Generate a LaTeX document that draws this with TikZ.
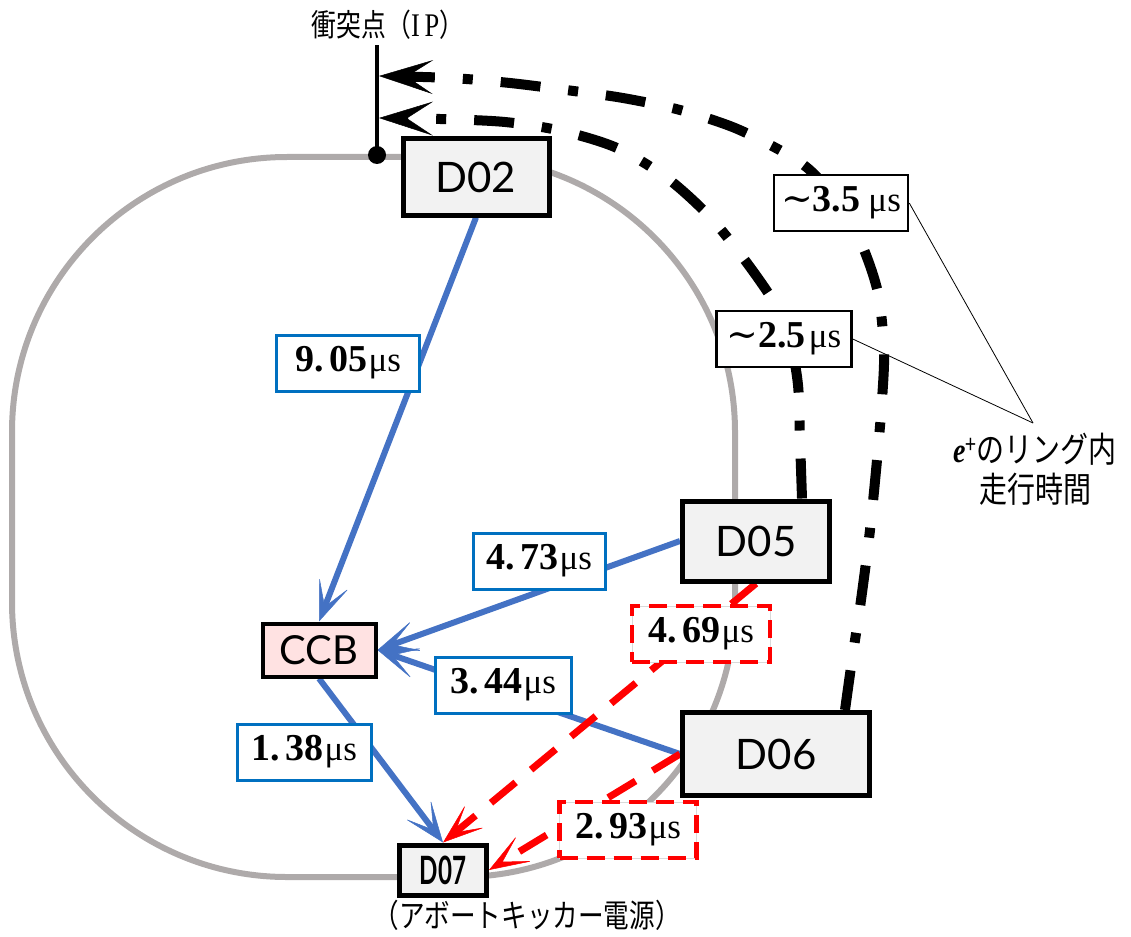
\documentclass[tikz,border=0pt]{standalone}
\usepackage{fontspec}
\setmainfont{Liberation Serif}
\newfontfamily\cjk{Noto Sans CJK JP}
\newfontfamily\devfont{Lato}
\newfontfamily\symfont{DejaVu Serif}
\usetikzlibrary{arrows.meta,calc,backgrounds}

\definecolor{ringgray}{RGB}{174,170,170}
\definecolor{boxgray}{RGB}{242,242,242}
\definecolor{ccbpink}{RGB}{255,226,226}
\definecolor{linkblue}{RGB}{68,114,196}
\definecolor{tagblue}{RGB}{0,112,192}
\definecolor{dashred}{RGB}{255,0,0}

% time value: bold number with a gap after the point, then the unit
\newcommand\tval[2]{{\bfseries #1.\kern6pt#2}\kern1pt{\fontsize{35}{35}\selectfont μs}}
% narrow setting for the Japanese captions
\newcommand\narrowjp[1]{\scalebox{0.8}[1]{#1}}

\begin{document}
\begin{tikzpicture}[x=1pt,y=-1pt,
  ringpath/.style={draw=ringgray,line width=6pt},
  devbox/.style={draw=black,line width=5pt,fill=boxgray,inner sep=0pt,
    font=\devfont\fontsize{42}{42}\selectfont},
  timetag/.style={fill=white,inner sep=0pt,minimum height=56pt,
    font=\fontsize{38}{38}\selectfont},
  bluetag/.style={timetag,draw=tagblue,line width=3pt},
  redtag/.style={timetag,draw=black!15,line width=1pt,
    postaction={draw=dashred,line width=4.5pt,dash pattern=on 18pt off 9pt}},
  orbittag/.style={timetag,draw=black,line width=2.5pt},
  bluelink/.style={draw=linkblue,line width=6pt,
    -{Stealth[length=42pt,width=32pt,inset=26pt,line width=0.5pt]}},
  redlink/.style={draw=dashred,line width=7pt,dash pattern=on 32pt off 20pt,
    -{Stealth[length=42pt,width=30pt,inset=26pt,line width=0.5pt]}},
  orbitpath/.style={draw=black,line width=10pt,
    dash pattern=on 40pt off 28pt on 10pt off 28pt,
    -{Stealth[length=54pt,width=34pt,inset=26pt,line width=0.5pt]}},
  leaderline/.style={draw=black,line width=0.8pt},
  notetext/.style={inner sep=0pt,font=\cjk\fontsize{32}{36}\selectfont}
]
\useasboundingbox (0,0) rectangle (1131,936);

% ---- devices ----
\node[devbox,minimum width=146pt,minimum height=76pt] (d02) at (476,177) {D02};
\node[devbox,minimum width=147pt,minimum height=80pt] (d05) at (756,541) {D05};
\node[devbox,minimum width=187pt,minimum height=83pt] (d06) at (776,754) {D06};
\node[devbox,minimum width=87pt,minimum height=50pt,
  font=\devfont\bfseries\fontsize{39}{39}\selectfont] (d07) at (443,870)
  {\scalebox{0.62}[1]{D07}};
\node[devbox,fill=ccbpink,line width=4pt,minimum width=113pt,minimum height=53pt,
  font=\devfont\fontsize{40}{40}\selectfont] (ccb) at (319,650) {CCB};

% ---- interaction point ----
\coordinate (ipTop) at (377,45);
\node[circle,fill=black,inner sep=0pt,minimum size=18pt] (ip) at (377,155) {};
\draw[line width=3.5pt] (ip.center) -- (ipTop);
\node[notetext,font=\cjk\fontsize{31}{34}\selectfont] (iplabel) at (388,25)
  {\narrowjp{衝突点（{\rmfamily\fontsize{33}{33}\selectfont I\kern6pt P}）}};

\node[notetext] (d07note) at (527,915) {\narrowjp{（アボートキッカー電源）}};

% ---- orbit ends ----
\coordinate (oStart) at ($(d06.north east)+(-27,0)$);
\coordinate (iStart) at ($(d05.north east)+(-30,0)$);
\coordinate (tipOuter) at (379,76);
\coordinate (tipInner) at (379,118);

\begin{scope}[on background layer]
  % storage ring
  \draw[ringpath,rounded corners=275pt] (12,157) rectangle (735,877);
  % signal paths
  \draw[bluelink] (d02.south) -- (ccb.north);
  \draw[bluelink] (d05.west) -- (ccb.east);
  \draw[bluelink] (d06.west) -- (ccb.east);
  \draw[bluelink] (ccb.south) -- (d07.north);
  \draw[redlink] (d05.south) -- (d07.north);
  \draw[redlink] (d06.west) -- (d07.east);
  % positron travel around the ring
  \draw[orbitpath] plot[smooth] coordinates {(oStart) (852,660) (861,600) (870,530)
    (877,460) (882,400) (884,350) (878,293) (862,245) (840,205) (812,172) (785,153)
    (735,128) (680,110) (623,98) (566,90) (510,83) (451,78) (tipOuter)};
  \draw[orbitpath] plot[smooth] coordinates {(iStart) (800,440) (798,385) (790,340)
    (777,307) (747,263) (710,217) (667,178) (617,148) (562,131) (505,122) (440,119)
    (tipInner)};
\end{scope}

% ---- time labels ----
\node[bluetag,minimum width=143pt] (t905) at (348,363) {\tval{9}{05}};
\node[bluetag,minimum width=132pt] (t473) at (539,561) {\tval{4}{73}};
\node[bluetag,minimum width=136pt] (t344) at (503,685) {\tval{3}{44}};
\node[bluetag,minimum width=134pt] (t138) at (304,752) {\tval{1}{38}};
\node[redtag,minimum width=138pt] (t469) at (701,634) {\tval{4}{69}};
\node[redtag,minimum width=137pt] (t293) at (628,830) {\tval{2}{93}};
\node[orbittag,minimum width=134pt] (t35) at (841,203)
  {{\symfont ∼}\textbf{3.5}\kern8pt{\fontsize{35}{35}\selectfont μs}};
\node[orbittag,minimum width=135pt] (t25) at (784,339)
  {{\symfont ∼}\textbf{2.5}\kern3pt{\fontsize{35}{35}\selectfont μs}};

% ---- note on ring travel time ----
\coordinate (apex) at (1033,423);
\draw[leaderline] (t35.east) -- (apex);
\draw[leaderline] (t25.east) -- (apex);
\node[notetext,font=\cjk\fontsize{35}{36}\selectfont] (ringnote) at (1035,473)
  {\narrowjp{\begin{tabular}{@{}c@{}}{\rmfamily\bfseries\itshape e}\textsuperscript{+}のリング内\\走行時間\end{tabular}}};
\end{tikzpicture}
\end{document}
